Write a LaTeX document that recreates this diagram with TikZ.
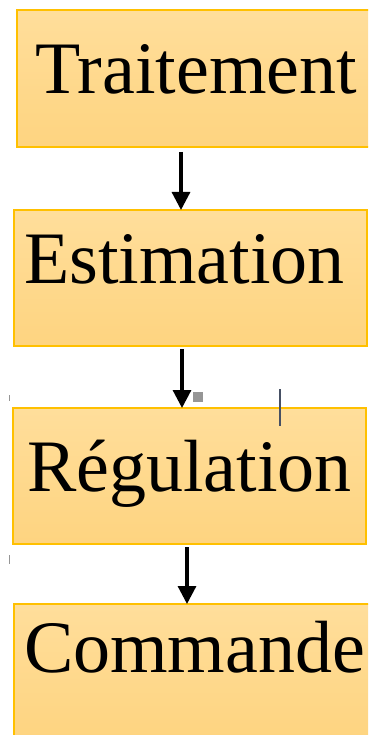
\documentclass[tikz,border=0pt]{standalone}
\usepackage{fontspec}
\setmainfont{Liberation Serif}
\usetikzlibrary{arrows.meta}
\definecolor{boxedge}{RGB}{255,192,0}
\definecolor{boxtop}{RGB}{255,222,155}
\definecolor{boxbot}{RGB}{254,212,128}
\definecolor{handle}{RGB}{150,150,150}
\definecolor{cursor}{RGB}{70,80,100}
\tikzset{
  stagebox/.style={draw=boxedge, line width=1.4pt, top color=boxtop, bottom color=boxbot,
    rectangle, inner sep=0pt, outer sep=0pt},
  stagelabel/.style={anchor=base west, inner sep=0pt, outer sep=0pt,
    font=\fontsize{74}{80}\selectfont, text=black},
  flow/.style={line width=3.2pt, -{Triangle[width=18pt,length=18pt]}},
}
\begin{document}
\begin{tikzpicture}[x=1pt, y=-1pt]
  \useasboundingbox (0,0) rectangle (368,735);
  \clip (0,0) rectangle (368,735);

  % stage boxes
  \node[stagebox, minimum width=355pt, minimum height=137pt] (b1) at (194.5,78.5) {};
  \node[stagebox, minimum width=353pt, minimum height=136pt] (b2) at (190.5,278) {};
  \node[stagebox, minimum width=353pt, minimum height=136pt] (b3) at (189.5,476) {};
  \node[stagebox, minimum width=358pt, minimum height=136pt] (b4) at (193,672) {};

  % stage names
  \node[stagelabel] (t1) at (35,94) {Traitement};
  \node[stagelabel] (t2) at (24,283) {Estimation};
  \node[stagelabel] (t3) at (27,491) {Régulation};
  \node[stagelabel] (t4) at (24,672) {Commande};

  % downward flow between stages
  \draw[flow] ([yshift=-5pt]b1.south -| 181,0) -- (b2.north -| 181,0);
  \draw[flow] ([yshift=-3pt]b2.south -| 182,0) -- (b3.north -| 182,0);
  \draw[flow] ([yshift=-3pt]b3.south -| 187,0) -- (b4.north -| 187,0);

  % small editing marks
  \fill[handle] (193,392) rectangle (203,402);
  \draw[cursor, line width=1.1pt] (280,389) -- (280,426);
  \draw[handle, line width=1pt] (9,395) -- (9,401);
  \draw[handle, line width=1pt] (9,555) -- (9,564);
\end{tikzpicture}
\end{document}
